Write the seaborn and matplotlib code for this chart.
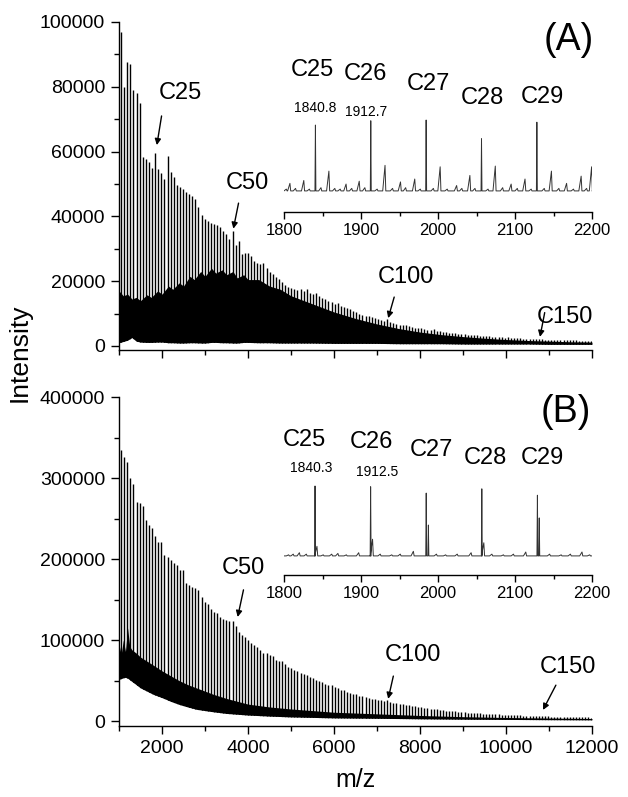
import numpy as np
import matplotlib
matplotlib.use('Agg')
import matplotlib.pyplot as plt
import seaborn as sns
from matplotlib.ticker import MultipleLocator, StrMethodFormatter

W, H = 628, 797

# peak series: C14 ... C166, spaced by the repeat unit
carbon_numbers = np.arange(14, 167)
c25_mass = 1840.8
repeat_mass = 71.95
peak_mz = c25_mass + (carbon_numbers - 25) * repeat_mass

# (A) main series peak heights, C14 -> C166
a_peaks = [97000, 80000, 87500, 87000, 79000, 78000, 75000,
           58400, 57600, 56800, 55000, 59500, 54600, 53500, 51400, 58600, 53800,
           52100, 49700, 49000, 48600, 47600, 46900, 46300, 45400, 42800, 40400,
           39200, 38700, 37900, 37700, 37300, 36600, 35500, 34600, 33000, 35600,
           31100, 32500, 28400, 28800, 28600, 27800, 26200, 25500, 25300, 25700,
           24000, 22900, 22200, 21400, 20600, 19800, 18800, 18300, 17800, 17600,
           17200, 17500, 17000, 17600, 16500, 16000, 16400, 15300, 14800, 14500,
           14000, 13600, 13000, 13300, 12400, 12000, 11600, 11300, 10800, 10400,
           10000, 9700, 9300, 9400, 8900, 8600, 8300, 8100, 7800, 8200,
           7300, 7000, 6900, 6600, 6400, 6500, 6100, 5900, 5700, 5600,
           5400, 5300, 5000, 4900, 5100, 4700, 4500, 4400, 4300, 4100,
           4000, 3900, 3800, 3700, 3800, 3500, 3400, 3300, 3300, 3200,
           3100, 3000, 3100, 2900, 2800, 2800, 2700, 2600, 2700, 2500,
           2500, 2400, 2400, 2300, 2300, 2200, 2200, 2100, 2100, 2300,
           2000, 2000, 1900, 1900, 1900, 1800, 1800, 1800, 1700, 1700,
           1700, 1600, 1600, 1600, 1500, 1500]

# (B) main series peak heights, C14 -> C166
b_peaks = [335000, 326000, 320000, 300000, 293000, 271000, 269000,
           265000, 248000, 242000, 238000, 229000, 221000, 221000, 205000, 203000, 199000,
           195000, 193000, 186000, 186000, 170000, 168000, 166000, 164000, 162000, 153000,
           147000, 145000, 139000, 135000, 133000, 129000, 126000, 125000, 123000, 123000,
           118000, 110000, 106000, 104000, 100000, 96000, 94000, 92000, 88000, 84000,
           84000, 82000, 80000, 76000, 74000, 74000, 71000, 67000, 65000, 63000,
           62000, 60000, 58000, 57000, 55000, 53000, 51000, 50000, 48000, 46000,
           45000, 44000, 42000, 41000, 39000, 38000, 36500, 35000, 34000, 33000,
           31500, 30500, 29500, 28500, 27500, 27000, 26000, 25500, 25000, 26000,
           24000, 23000, 22500, 21500, 21000, 20000, 19500, 19000, 18500, 18000,
           17000, 16500, 16000, 15500, 15000, 14500, 14000, 13500, 13000, 12800,
           12400, 12000, 11600, 11300, 11000, 10600, 10300, 10000, 9800, 9500,
           9300, 9000, 8800, 8600, 8400, 8200, 8000, 7800, 7600, 7500,
           7300, 7100, 7000, 6800, 6700, 6500, 6400, 6300, 6100, 6500,
           5900, 5800, 5700, 5600, 5500, 5400, 5300, 5200, 5100, 5000,
           4900, 4800, 4700, 4600, 4500, 4400]

# dense minor-series band (lower / upper edge) under the main peaks
a_env_mz = [1000, 1100, 1200, 1300, 1400, 1500, 1650, 1750, 1900, 2000, 2150, 2250, 2400,
            2500, 2650, 2750, 2900, 3000, 3150, 3250, 3400, 3500, 3650, 3750, 3900, 4000,
            4250, 4500, 4750, 5000, 5500, 6000, 6500, 7000, 7500, 8000, 8500, 9000,
            9500, 10000, 10500, 11000, 11500, 12000]
a_env_hi = [17000, 15500, 16000, 14500, 15000, 14000, 15800, 15000, 17000, 16000, 18500,
            17500, 19500, 18500, 21500, 20500, 23000, 21500, 24000, 22500, 23500, 22000,
            23000, 21000, 22000, 20500, 20500, 18500, 17500, 15500, 13000, 10500, 8500,
            6800, 5400, 4300, 3500, 2900, 2400, 2000, 1700, 1500, 1300, 1200]
a_env_lo = [1000, 1400, 1800, 2600, 1500, 1200, 1100, 1100, 1200, 1200, 1000, 1000, 900,
            900, 1000, 1000, 900, 900, 1100, 1100, 1000, 1000, 900, 900, 1100, 1100,
            1000, 1000, 900, 900, 900, 800, 800, 800, 700, 700, 700, 600, 600, 600, 600,
            500, 500, 500]

b_env_mz = [1000, 1050, 1100, 1150, 1200, 1250, 1300, 1400, 1500, 1650, 1800, 2000, 2200,
            2400, 2600, 2800, 3000, 3200, 3500, 4000, 4500, 5000, 5500, 6000, 7000, 8000,
            9000, 10000, 11000, 12000]
b_env_hi = [95000, 82000, 100000, 86000, 115000, 92000, 88000, 84000, 79000, 74000, 69000,
            62000, 56000, 50000, 45000, 41000, 37000, 33000, 28000, 21000, 17500, 15000,
            13000, 11000, 9000, 7000, 5500, 4500, 3800, 3200]
b_env_lo = [51500, 52500, 53500, 54000, 53000, 51000, 49000, 45000, 41000, 37000, 33000,
            29000, 24500, 20600, 17500, 14600, 13000, 11500, 9500, 7500, 6200, 5200, 4600,
            4000, 3500, 2900, 2400, 2100, 1800, 1600]

# insets, relative intensity (%)
inset_a_mz = [1840.8, 1912.7, 1984.6, 2056.5, 2128.4,
              1858.3, 1931.2, 2002.8, 2074.4, 2147.3,
              1825.7, 1897.7, 1969.8, 2041.4, 2113.0, 2185.9,
              1807.7, 1880.6, 1951.3, 2024.2, 2095.0, 2167.0, 2199.5,
              1803, 1815, 1833, 1848, 1866, 1873, 1888, 1905, 1921, 1941, 1958, 1977,
              1994, 2012, 2031, 2048, 2065, 2084, 2103, 2121, 2138, 2157, 2176, 2193]
inset_a_int = [93, 99, 100, 74, 97,
               29, 37, 35, 36, 29,
               16, 15, 18, 23, 18, 22,
               12, 11, 14, 9, 11, 12, 35,
               4, 5, 4, 6, 5, 4, 5, 6, 4, 5, 6, 4,
               5, 4, 5, 5, 4, 6, 5, 4, 5, 5, 4, 5]

inset_b_mz = [1840.3, 1912.5, 1984.7, 2056.9, 2129.1,
              1842.8, 1915.0, 1987.5, 2059.5, 2131.5,
              1806, 1812, 1820, 1829, 1851, 1862, 1870, 1881, 1897, 1925, 1940, 1951,
              1968, 1998, 2010, 2025, 2043, 2070, 2085, 2098, 2114, 2145, 2160, 2172,
              2187, 2197]
inset_b_int = [100, 99, 90, 96, 87,
               15, 25, 45, 20, 55,
               3, 4, 6, 4, 3, 4, 5, 3, 6, 4, 3, 4,
               8, 4, 3, 4, 6, 4, 3, 4, 7, 4, 3, 4,
               7, 3]

inset_a_text = ['C25', 'C26', 'C27', 'C28', 'C29', '1840.8', '1912.7']
inset_a_text_x = [1837, 1906, 1988, 2057, 2135, 1840, 1907]
inset_a_text_y = [169, 164, 150, 131, 132, 117, 111]
inset_b_text = ['C25', 'C26', 'C27', 'C28', 'C29', '1840.3', '1912.5']
inset_b_text_x = [1827, 1913, 1991, 2061, 2136, 1835, 1921]
inset_b_text_y = [165, 162, 151, 139, 139, 125, 120]

# main panel labels: text, text position, arrow tail, arrow tip
a_marks = [('C25', (2420, 78000), (1990, 71000), (1880, 62000)),
           ('C50', (3990, 50300), (3780, 44100), (3660, 36200)),
           ('C100', (7680, 21300), (7400, 15100), (7260, 8600)),
           ('C150', (11370, 8950), (10900, 10300), (10790, 2800))]
b_marks = [('C50', (3900, 189000), (3895, 162000), (3760, 128500)),
           ('C100', (7840, 81500), (7380, 55600), (7260, 27500)),
           ('C150', (11440, 66700), (11160, 44400), (10860, 13800))]

sns.set_theme(style='ticks')
plt.rcParams['font.family'] = ['Liberation Sans', 'DejaVu Sans']
plt.rcParams.update({'xtick.direction': 'out', 'ytick.direction': 'out',
                     'axes.linewidth': 1.0, 'axes.edgecolor': 'black',
                     'xtick.color': 'black', 'ytick.color': 'black',
                     'text.color': 'black', 'axes.labelcolor': 'black'})

fig = plt.figure(figsize=(W / 100, H / 100), dpi=100)


def px_axes(l, t, r, b):
    return fig.add_axes([l / W, 1 - b / H, (r - l) / W, (b - t) / H])


def spectrum(ax, peaks, env_mz, env_lo, env_hi, ymax, ystep, yminor, ybottom, marks):
    ax.vlines(peak_mz, 0, peaks, color='black', lw=1.0, zorder=1)
    # clean white gap under the noisy baseline, then the dense minor-series band
    ax.fill_between(env_mz, ybottom, env_lo, color='white', lw=0, zorder=2)
    ax.fill_between(env_mz, env_lo, env_hi, color='black', lw=0, zorder=3)
    ax.set_xlim(1000, 12000)
    ax.set_ylim(ybottom, ymax)
    ax.xaxis.set_major_locator(MultipleLocator(2000))
    ax.xaxis.set_minor_locator(MultipleLocator(1000))
    ax.yaxis.set_major_locator(MultipleLocator(ystep))
    ax.yaxis.set_minor_locator(MultipleLocator(yminor))
    ax.yaxis.set_major_formatter(StrMethodFormatter('{x:.0f}'))
    ax.tick_params(which='major', length=6, width=1, labelsize=14, pad=4)
    ax.tick_params(which='minor', length=3.5, width=1)
    ax.set_facecolor('none')
    sns.despine(ax=ax)
    for text, txy, tail, tip in marks:
        ax.annotate('', xy=tip, xytext=tail,
                    arrowprops=dict(arrowstyle='-|>', color='black', lw=1.0,
                                    mutation_scale=9, shrinkA=0, shrinkB=0))
        ax.text(txy[0], txy[1], text, ha='center', va='center', fontsize=17)


def profile(mzs, ints, base=1.5):
    order = np.argsort(mzs)
    xs, ys = [1800], [base]
    for i in order:
        m, h = mzs[i], ints[i]
        wl, wr = (0.6, 0.6) if h > 40 else (3.0, 1.0)
        xs += [m - wl, m, m + wr]
        ys += [base, h, base]
    xs.append(2200)
    ys.append(base)
    return xs, ys


def inset(ax, mzs, ints, texts, tx, ty, ylo):
    xs, ys = profile(mzs, ints)
    sns.lineplot(x=xs, y=ys, sort=False, estimator=None, color='#333333', lw=0.7, ax=ax)
    ax.set_xlim(1800, 2200)
    ax.set_ylim(ylo, 102.8)
    ax.set_yticks([])
    ax.xaxis.set_major_locator(MultipleLocator(100))
    ax.xaxis.set_minor_locator(MultipleLocator(50))
    ax.tick_params(which='major', length=5, width=1, labelsize=12, pad=3)
    ax.tick_params(which='minor', length=3, width=1)
    ax.set_facecolor('none')
    sns.despine(ax=ax, left=True)
    for t, x, y in zip(texts, tx, ty):
        ax.text(x, y, t, ha='center', va='center', fontsize=17 if t.startswith('C') else 10)


ax_a = px_axes(119, 22, 592, 350.2)
spectrum(ax_a, a_peaks, a_env_mz, a_env_lo, a_env_hi, 100000, 20000, 10000, -1300, a_marks)
ax_a.tick_params(axis='x', labelbottom=False)

ax_b = px_axes(119, 397, 592, 726)
spectrum(ax_b, b_peaks, b_env_mz, b_env_lo, b_env_hi, 400000, 100000, 50000, -6000, b_marks)
ax_b.set_xlabel('m/z', fontsize=18, labelpad=8)

ins_a = px_axes(284, 118, 592, 212)
inset(ins_a, inset_a_mz, inset_a_int, inset_a_text, inset_a_text_x, inset_a_text_y, -27.8)
ins_b = px_axes(284, 484, 592, 575)
inset(ins_b, inset_b_mz, inset_b_int, inset_b_text, inset_b_text_x, inset_b_text_y, -25.4)

fig.text(569 / W, 1 - 40 / H, '(A)', ha='center', va='center', fontsize=27)
fig.text(566 / W, 1 - 412 / H, '(B)', ha='center', va='center', fontsize=27)
fig.text(20 / W, 1 - 353 / H, 'Intensity', rotation=90, ha='center', va='center', fontsize=19)

fig.savefig('out.png', dpi=100)
